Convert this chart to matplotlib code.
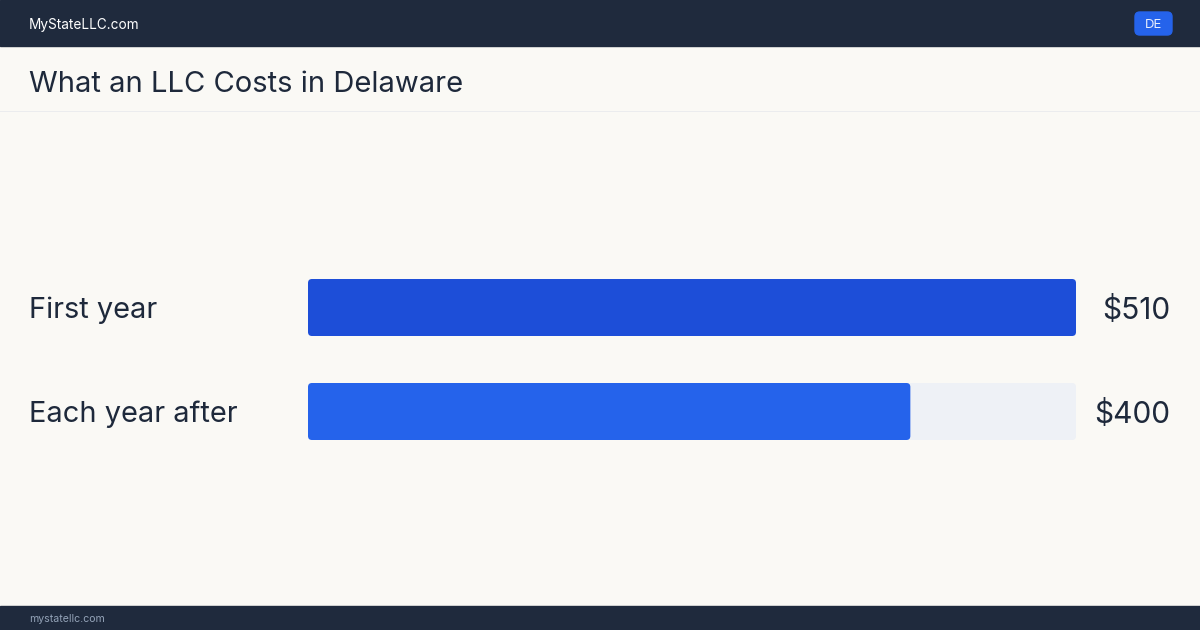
import matplotlib.pyplot as plt
from matplotlib.patches import FancyBboxPatch, Rectangle

plt.rcParams['font.family'] = ['Inter', 'DejaVu Sans']

# data
categories = ["First year", "Each year after"]
costs = [510, 400]
bar_colors = ["#1d4ed8", "#2563eb"]
TITLE = "What an LLC Costs in Delaware"
SITE = "MyStateLLC.com"
FOOTER = "mystatellc.com"
STATE = "DE"

BG = "#faf9f5"
DARK = "#1e293b"
TRACK = "#eef1f6"

W, H = 1200, 630
fig = plt.figure(figsize=(12, 6.3), dpi=100, facecolor=BG)

def fy(px):  # pixel from top -> figure fraction
    return 1 - px / H

# header band, footer band, separator
fig.patches.append(Rectangle((0, fy(46)), 1, 46 / H, transform=fig.transFigure, color="#1f2a3d", zorder=0))
fig.patches.append(Rectangle((0, 0), 1, 24 / H, transform=fig.transFigure, color="#1f2a3d", zorder=0))
fig.patches.append(Rectangle((0, fy(111.5)), 1, 1 / H, transform=fig.transFigure, color="#ebecee", lw=0, zorder=0))
fig.text(29 / W, fy(24.5), SITE, color="white", fontsize=9.8, va="center", ha="left")
fig.patches.append(FancyBboxPatch((1135 / W, fy(35)), 37 / W, 23 / H, boxstyle="round,pad=0,rounding_size=0.004",
                                  transform=fig.transFigure, color="#2563eb", mutation_aspect=W / H))
fig.text(1153.5 / W, fy(24.5), STATE, color="#e8eefc", fontsize=9.5, va="center", ha="center")
fig.text(29 / W, fy(619), FOOTER, color="#94a3b8", fontsize=7.6, va="center", ha="left")
fig.text(29 / W, fy(84), TITLE, color=DARK, fontsize=21, va="center", ha="left")

# bar area
ax = fig.add_axes([308 / W, (H - 463.5) / H, 768 / W, 208 / H])
ax.set_facecolor("none")
xmax = max(costs)
ax.set_xlim(0, xmax)
ax.set_ylim(1.5, -0.5)
ax.axis("off")

bh = 57 / 104
ux = xmax / 768.0   # data units per px in x
uy = 1 / 104.0      # data units per px in y
r = 4 * ux
asp = uy / ux
for i, (cat, val, col) in enumerate(zip(categories, costs, bar_colors)):
    ax.add_patch(FancyBboxPatch((0, i - bh / 2), xmax, bh, boxstyle=f"round,pad=0,rounding_size={r}",
                                mutation_aspect=asp, color=TRACK, lw=0))
    ax.add_patch(FancyBboxPatch((0, i - bh / 2), val, bh, boxstyle=f"round,pad=0,rounding_size={r}",
                                mutation_aspect=asp, color=col, lw=0))
    ypx = 310 + 104 * i
    fig.text(29 / W, fy(ypx), cat, color=DARK, fontsize=20.9, va="center", ha="left")
    fig.text(1170 / W, fy(ypx), f"${val}", color=DARK, fontsize=21.5, va="center", ha="right")

fig.savefig("out.png", dpi=100, facecolor=BG)
